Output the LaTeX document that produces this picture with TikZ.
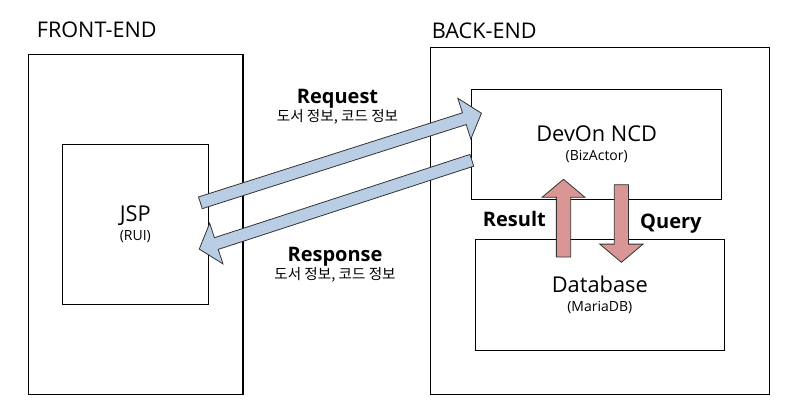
\documentclass[tikz,border=0pt]{standalone}
\usepackage{fontspec}
\setmainfont{Open Sans}
\newfontfamily\krfont{Noto Sans CJK KR}
\usetikzlibrary{shapes.arrows,calc}
\definecolor{flowblue}{RGB}{185,205,229}
\definecolor{flowred}{RGB}{217,150,148}

\begin{document}
\begin{tikzpicture}[x=1pt,y=-1pt]

      \tikzset{frame/.style={draw, line width=1.1pt, inner sep=0pt},
               title/.style={anchor=base west, inner sep=0pt, font=\fontsize{21.6}{24}\selectfont},
               boxtext/.style={frame, align=center, font=\fontsize{21.8}{19}\selectfont},
               flowtext/.style={align=center, inner sep=0pt, font=\fontsize{14.6}{16}\selectfont},
               sidetext/.style={anchor=base west, inner sep=0pt, font=\bfseries\fontsize{20}{24}\selectfont},
               blockarrow/.style={single arrow, draw=black!80, line width=0.8pt, inner xsep=0pt,
                                  single arrow tip angle=100}}
      \newcommand{\subline}[1]{{\fontsize{14}{14}\selectfont #1}}
      \fill[white] (0,0) rectangle (802,418);
%% Frames
      	\node[frame, minimum width=214.5pt, minimum height=340pt] (frontBox) at (135.75,224.2) {};
      	\node[frame, minimum width=339pt, minimum height=347pt] (backBox) at (599.8,220.8) {};
      	\node[title] (frontTitle) at (36.7,37.7) {FRONT-END};
      	\node[title] (backTitle) at (431.7,38.3) {BACK-END};
%% Boxes
      	\node[boxtext, minimum width=146pt, minimum height=160pt] (jspBox) at (135.3,224.3) {JSP\\\subline{(RUI)}};
      	\node[boxtext, minimum width=250pt, minimum height=110pt] (ncdBox) at (596.7,144.3) {DevOn NCD\\\subline{(BizActor)}};
      	\node[boxtext, minimum width=249pt, minimum height=111pt] (dbBox) at (599.8,294.8) {Database\\\subline{(MariaDB)}};
%% Arrow ends
      	\coordinate (reqTail) at (197.9,203.6);
      	\coordinate (reqTip) at (479,114);
      	\coordinate (resTail) at (474.3,159.5);
      	\coordinate (resTip) at (201.7,248.3);
      	\coordinate (resultTail) at (563.5,260);
      	\coordinate (resultTip) at (563.5,182.3);
      	\coordinate (queryTail) at (621.4,181.7);
      	\coordinate (queryTip) at (621.4,259.3);
%Arrows
		\path let \p1=($(reqTip)-(reqTail)$), \n1={veclen(\x1,\y1)}, \n2={atan2(\y1,\x1)} in
		  node[blockarrow, fill=flowblue, inner ysep=5.75pt, single arrow head extend=15.25pt,
		       minimum height=\n1, rotate=\n2] (reqArrow) at ($(reqTail)!0.5!(reqTip)$) {};
		\path let \p1=($(resTip)-(resTail)$), \n1={veclen(\x1,\y1)}, \n2={atan2(\y1,\x1)} in
		  node[blockarrow, fill=flowblue, inner ysep=5.75pt, single arrow head extend=15.25pt,
		       minimum height=\n1, rotate=\n2] (resArrow) at ($(resTail)!0.5!(resTip)$) {};
		\path let \p1=($(resultTip)-(resultTail)$), \n1={veclen(\x1,\y1)}, \n2={atan2(\y1,\x1)} in
		  node[blockarrow, fill=flowred, inner ysep=6.75pt, single arrow head extend=14.25pt,
		       minimum height=\n1, rotate=\n2] (resultArrow) at ($(resultTail)!0.5!(resultTip)$) {};
		\path let \p1=($(queryTip)-(queryTail)$), \n1={veclen(\x1,\y1)}, \n2={atan2(\y1,\x1)} in
		  node[blockarrow, fill=flowred, inner ysep=6.75pt, single arrow head extend=14.5pt,
		       minimum height=\n1, rotate=\n2] (queryArrow) at ($(queryTail)!0.5!(queryTip)$) {};
%Labels
		\node[flowtext] (reqLabel) at (337.5,107) {{\bfseries\fontsize{20}{20}\selectfont Request}\\{\krfont 도서 정보, 코드 정보}};
		\node[flowtext] (resLabel) at (335,264.7) {{\bfseries\fontsize{20}{20}\selectfont Response}\\{\krfont 도서 정보, 코드 정보}};
		\node[sidetext] (resultLabel) at (482.7,226.7) {Result};
		\node[sidetext] (queryLabel) at (640,228) {Query};

	\end{tikzpicture}
\end{document}
